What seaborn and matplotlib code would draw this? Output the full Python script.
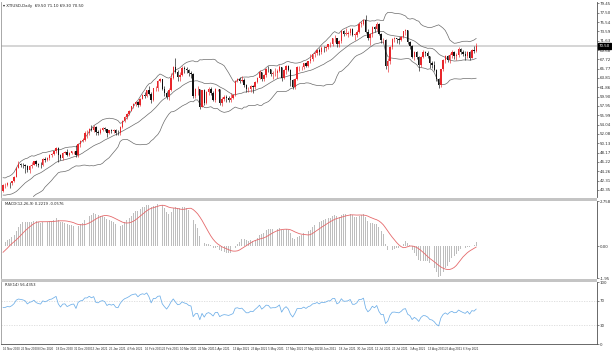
import numpy as np
import pandas as pd
import matplotlib
matplotlib.use("Agg")
import matplotlib.pyplot as plt
import matplotlib.transforms as mtransforms
from matplotlib.patches import Rectangle
import seaborn as sns

symbol = "XTIUSD,Daily"

# closes before the first visible bar (indicator warm-up), 16 Oct - 13 Nov 2020
warmup_close = [40.9, 41.1, 41.7, 40.0, 40.6, 39.9, 38.6, 39.6, 37.4, 36.2, 35.8,
                36.8, 37.7, 39.2, 38.8, 37.1, 40.3, 41.4, 41.5, 41.1, 40.1]

holidays = ["2020-12-25", "2021-01-01"]
first_day = "2020-11-16"
last_day = "2021-09-14"

opens = [
    40.1, 41.3, 41.4, 41.8, 41.7, 42.2, 43.1, 45.0, 45.7, 45.6, 45.5,
    45.3, 44.6, 45.3, 45.6, 46.3, 45.8, 45.6, 45.5, 46.8, 46.6, 47.0, 47.6, 47.8, 48.4, 49.1, 47.7, 47.0, 48.1, 48.2, 47.6, 48.0, 48.4,
    48.5, 47.6, 49.9, 50.6, 50.8, 52.2, 52.2, 53.2, 52.9, 53.6, 52.4, 52.3, 53.0, 53.3, 53.1, 52.3, 52.8, 52.6, 52.9, 52.3,
    52.2, 53.6, 54.8, 55.7, 56.2, 56.9, 57.9, 58.4, 58.7, 58.2, 59.5, 60.2, 60.1, 61.2, 60.5, 59.2, 61.7, 61.7, 63.2, 63.5,
    61.5, 60.6, 59.8, 61.3, 63.8, 66.1, 65.0, 64.0, 64.4, 66.0, 65.6, 65.4, 64.8, 64.6, 60.0, 61.4, 61.5, 57.8, 61.2, 58.6, 60.9, 61.5, 60.6,
    59.2, 61.4, 61.5, 58.6, 59.4, 59.8, 59.6, 59.3, 59.7, 60.2, 63.2, 63.5, 63.1, 63.4, 62.4, 61.4, 61.4, 62.1, 61.9, 62.9, 63.8, 65.0,
    63.6, 64.5, 65.7, 65.6, 64.7, 64.9, 64.9, 65.3, 66.1, 63.8, 65.4, 66.3, 65.5, 63.4, 62.0, 63.6, 66.1, 66.1, 66.2, 66.9, 66.4,
    67.3, 67.7, 68.8, 69.0, 69.6, 69.2, 70.1, 70.0, 70.3, 70.9, 70.9, 72.1, 72.2, 71.0, 71.6, 73.7, 73.1, 73.1, 73.3, 74.0, 72.9, 72.9,
    73.5, 75.2, 75.2, 75.9, 73.4, 72.2, 73.0, 74.6, 74.1, 75.2, 73.1, 71.7, 71.8, 66.4, 67.4, 70.3, 72.0, 72.1, 71.9, 71.7, 72.4, 73.6,
    73.9, 71.3, 70.6, 68.2, 69.2, 68.2, 66.5, 68.3, 69.2, 69.1, 68.4, 66.9, 66.6, 65.5, 63.5, 62.3, 65.6, 67.5, 68.4, 67.5, 68.7, 69.2,
    68.5, 68.6, 69.9, 69.3, 68.8, 68.4, 69.3, 68.1, 69.7, 69.5,
]
highs = [
    41.6, 41.8, 42.0, 42.0, 42.3, 43.3, 45.2, 46.3, 45.9, 46.0, 45.7,
    45.5, 45.5, 46.2, 46.5, 46.6, 45.9, 46.2, 47.0, 47.2, 47.3, 47.8, 48.1, 48.6, 49.3, 49.4, 47.8, 48.3, 48.4, 48.9, 48.3, 48.6, 48.6,
    49.8, 50.2, 50.9, 51.3, 52.7, 52.8, 53.4, 53.9, 53.9, 53.7, 52.8, 53.3, 53.6, 53.6, 53.2, 53.0, 53.1, 53.2, 53.2, 52.9,
    53.8, 54.9, 55.9, 56.4, 57.0, 58.0, 58.6, 58.9, 58.9, 59.7, 60.4, 60.9, 61.3, 62.2, 60.9, 61.8, 62.2, 63.3, 63.8, 63.6,
    62.2, 61.0, 61.8, 64.8, 66.4, 67.9, 65.4, 65.0, 66.4, 66.3, 66.2, 65.6, 65.3, 64.9, 61.7, 62.1, 61.6, 61.3, 61.4, 61.1, 61.9, 61.9, 61.1,
    61.7, 61.6, 61.6, 59.8, 60.2, 60.2, 60.0, 60.7, 60.5, 63.3, 63.8, 64.0, 64.2, 63.9, 62.6, 61.9, 62.3, 62.3, 63.1, 64.0, 65.5, 65.1,
    64.7, 66.0, 66.4, 65.8, 65.3, 65.9, 65.6, 66.6, 66.2, 65.6, 66.5, 66.6, 65.6, 63.6, 63.9, 66.3, 66.4, 66.4, 67.0, 67.2, 67.4,
    68.9, 68.9, 69.4, 69.8, 70.0, 70.5, 70.6, 70.5, 71.0, 71.3, 72.2, 72.9, 72.3, 71.8, 73.9, 73.9, 74.2, 73.6, 74.2, 74.4, 73.3, 73.8,
    75.6, 75.7, 76.2, 77.0, 74.0, 73.2, 74.8, 74.8, 75.5, 75.4, 73.3, 72.2, 72.0, 67.9, 70.5, 72.2, 72.4, 72.3, 72.4, 72.6, 73.7, 74.1,
    73.9, 71.6, 70.8, 69.4, 69.4, 68.4, 68.5, 69.7, 69.4, 69.4, 68.5, 67.4, 67.3, 65.7, 63.8, 65.8, 67.7, 68.6, 68.7, 69.0, 69.6, 69.5,
    69.0, 70.3, 70.1, 69.7, 69.5, 69.5, 69.5, 69.8, 70.6, 71.1,
]
lows = [
    39.9, 40.7, 41.1, 40.8, 41.4, 41.9, 43.0, 44.9, 45.1, 44.9, 43.8,
    44.1, 43.9, 44.9, 45.5, 45.4, 45.1, 45.0, 45.4, 46.2, 46.3, 46.6, 47.3, 47.6, 48.1, 46.2, 46.6, 46.7, 47.8, 47.4, 47.4, 47.8, 47.9,
    47.3, 47.3, 49.4, 50.3, 50.5, 51.3, 51.8, 52.6, 52.5, 51.9, 51.8, 52.1, 52.7, 52.6, 51.5, 52.0, 52.3, 52.2, 51.9, 51.8,
    51.8, 53.4, 54.6, 55.3, 56.0, 56.8, 57.6, 58.0, 57.8, 57.9, 59.4, 59.7, 59.8, 60.2, 58.6, 59.0, 61.0, 61.1, 62.9, 61.3,
    60.1, 59.4, 59.3, 61.1, 63.6, 64.9, 63.1, 63.1, 64.2, 64.9, 64.8, 64.3, 63.8, 59.7, 59.6, 60.3, 57.3, 57.7, 58.1, 58.4, 60.3, 60.2, 58.9,
    58.8, 61.1, 58.1, 58.0, 58.9, 58.8, 58.7, 58.8, 59.5, 60.0, 62.9, 62.8, 62.9, 61.9, 60.9, 60.8, 60.9, 60.7, 61.6, 62.7, 63.6, 63.2,
    63.1, 64.0, 65.1, 64.3, 63.7, 64.2, 63.9, 65.0, 63.1, 63.6, 64.7, 65.2, 62.2, 61.6, 61.5, 63.3, 65.2, 65.5, 65.7, 66.1, 66.2,
    67.0, 67.4, 68.3, 68.6, 68.6, 68.8, 69.3, 69.4, 69.8, 70.3, 70.6, 71.3, 70.4, 70.4, 71.2, 72.6, 72.8, 72.4, 72.9, 72.6, 71.8, 72.4,
    73.2, 74.5, 74.9, 73.2, 71.8, 70.8, 72.5, 73.4, 73.6, 72.9, 71.2, 71.1, 65.8, 65.0, 66.8, 69.9, 71.3, 71.1, 70.9, 71.6, 72.2, 72.9,
    71.0, 69.8, 67.9, 67.6, 67.8, 65.2, 66.2, 67.9, 68.4, 67.9, 66.0, 65.9, 65.2, 63.2, 61.7, 62.0, 65.2, 66.9, 67.1, 67.0, 68.1, 67.7,
    67.5, 68.2, 68.8, 68.4, 67.6, 68.0, 67.6, 67.9, 69.0, 69.3,
]
closes = [
    41.3, 41.4, 41.8, 41.7, 42.2, 43.1, 45.0, 45.7, 45.6, 45.5, 45.3,
    44.6, 45.3, 45.6, 46.3, 45.8, 45.6, 45.5, 46.8, 46.6, 47.0, 47.6, 47.8, 48.4, 49.1, 47.7, 47.0, 48.1, 48.2, 47.6, 48.0, 48.4, 48.5,
    47.6, 49.9, 50.6, 50.8, 52.2, 52.2, 53.2, 52.9, 53.6, 52.4, 52.3, 53.0, 53.3, 53.1, 52.3, 52.8, 52.6, 52.9, 52.3, 52.2,
    53.6, 54.8, 55.7, 56.2, 56.9, 57.9, 58.4, 58.7, 58.2, 59.5, 60.2, 60.1, 61.2, 60.5, 59.2, 61.7, 61.7, 63.2, 63.5, 61.5,
    60.6, 59.8, 61.3, 63.8, 66.1, 65.0, 64.0, 64.4, 66.0, 65.6, 65.4, 64.8, 64.6, 60.0, 61.4, 61.5, 57.8, 61.2, 58.6, 60.9, 61.5, 60.6, 59.2,
    61.4, 61.5, 58.6, 59.4, 59.8, 59.6, 59.3, 59.7, 60.2, 63.2, 63.5, 63.1, 63.4, 62.4, 61.4, 61.4, 62.1, 61.9, 62.9, 63.8, 65.0, 63.6,
    64.5, 65.7, 65.6, 64.7, 64.9, 64.9, 65.3, 66.1, 63.8, 65.4, 66.3, 65.5, 63.4, 62.0, 63.6, 66.1, 66.1, 66.2, 66.9, 66.4, 67.3,
    67.7, 68.8, 69.0, 69.6, 69.2, 70.1, 70.0, 70.3, 70.9, 70.9, 72.1, 72.2, 71.0, 71.6, 73.7, 73.1, 73.1, 73.3, 74.0, 72.9, 72.9, 73.5,
    75.2, 75.2, 75.9, 73.4, 72.2, 73.0, 74.6, 74.1, 75.2, 73.1, 71.7, 71.8, 66.4, 67.4, 70.3, 72.0, 72.1, 71.9, 71.7, 72.4, 73.6, 73.9,
    71.3, 70.6, 68.2, 69.2, 68.2, 66.5, 68.3, 69.2, 69.1, 68.4, 66.9, 66.6, 65.5, 63.5, 62.3, 65.6, 67.5, 68.4, 67.5, 68.7, 69.2, 68.5,
    68.6, 69.9, 69.3, 68.8, 68.4, 69.3, 68.1, 69.7, 69.5, 70.5,
]

dates = pd.bdate_range(first_day, last_day)
dates = dates[~dates.isin(pd.to_datetime(holidays))]
assert len(opens) == len(highs) == len(lows) == len(closes) == len(dates), (
    len(opens), len(highs), len(lows), len(closes), len(dates))

n = len(closes)
xs = np.arange(n)
o = np.array(opens); h = np.array(highs); l = np.array(lows); c = np.array(closes)

# ---- indicators (computed from the closes) ----
full = pd.Series(warmup_close + closes, dtype=float)
k = len(warmup_close)
mid = full.rolling(20).mean()
sd = full.rolling(20).std(ddof=0)
bb_mid = mid.values[k:]
bb_up = (mid + 2 * sd).values[k:]
bb_lo = (mid - 2 * sd).values[k:]
macd_full = full.ewm(span=12, adjust=False).mean() - full.ewm(span=26, adjust=False).mean()
sig_full = macd_full.rolling(9, min_periods=1).mean()
macd = macd_full.values[k:]
sig = sig_full.values[k:]
d = full.diff()
gain = d.clip(lower=0).ewm(alpha=1 / 14, adjust=False).mean()
loss = (-d.clip(upper=0)).ewm(alpha=1 / 14, adjust=False).mean()
rsi = (100 - 100 / (1 + gain / loss)).values[k:]

# ---- figure ----
sns.set_style("white")
plt.rcParams["font.family"] = ["DejaVu Sans"]
W, H = 612, 353
fig = plt.figure(figsize=(W / 100, H / 100), dpi=100)
fig.patch.set_facecolor("white")

def fr(px_left, px_top, px_right, px_bottom):
    return [px_left / W, 1 - px_bottom / H, (px_right - px_left) / W, (px_bottom - px_top) / H]

ax1 = fig.add_axes(fr(1, 2, 597, 197))
ax2 = fig.add_axes(fr(1, 201, 597, 278), sharex=ax1)
ax3 = fig.add_axes(fr(1, 282, 597, 344), sharex=ax1)

XMIN, XMAX = -0.9, 268.6
tick_fs = 2.9
txt_col = "#303030"

for ax in (ax1, ax2, ax3):
    ax.set_facecolor("white")
    ax.yaxis.tick_right()
    ax.tick_params(axis="y", labelsize=tick_fs, length=1.2, width=0.4, pad=0.6, colors=txt_col)
    ax.tick_params(axis="x", length=0)
    for s in ("top", "bottom"):
        ax.spines[s].set_visible(False)
    ax.spines["left"].set_color("#9A9A9A")
    ax.spines["left"].set_linewidth(0.6)
    ax.spines["right"].set_color("#505050")
    ax.spines["right"].set_linewidth(0.6)
    ax.grid(False)

# main price panel
up = c >= o
col = np.where(up, "#E8262B", "#111111")
ax1.vlines(xs, l, h, colors=col, linewidth=0.45, zorder=3)
body = np.maximum(np.abs(c - o), 0.06)
ax1.bar(xs, body, bottom=np.minimum(o, c), width=0.62, color=col, linewidth=0, zorder=4)
band_col = "#6A6A6A"
sns.lineplot(x=xs, y=bb_up, ax=ax1, color=band_col, linewidth=0.5, zorder=2)
sns.lineplot(x=xs, y=bb_mid, ax=ax1, color=band_col, linewidth=0.5, zorder=2)
sns.lineplot(x=xs, y=bb_lo, ax=ax1, color=band_col, linewidth=0.5, zorder=2)
ax1.axhline(c[-1], color="#D2D2D2", linewidth=1.3, zorder=1)
ax1.set_ylim(38.85, 79.75)
yt = np.arange(79.45, 38.8, -1.955)
ax1.set_yticks(yt)
ax1.set_yticklabels([f"{v:.2f}" for v in yt])
trans1 = mtransforms.blended_transform_factory(ax1.transAxes, ax1.transData)
ax1.text(1.003, c[-1], f"{c[-1]:.2f}", transform=trans1, fontsize=tick_fs, color="white",
         va="center", ha="left", zorder=10,
         bbox=dict(boxstyle="square,pad=0.15", fc="black", ec="black"))
fig.text(3 / W, 1 - 5.5 / H,
         f"\u25be {symbol}  {o[-1]:.2f} {h[-1]:.2f} {l[-1]:.2f} {c[-1]:.2f}",
         fontsize=2.9, color="#202020", va="center", ha="left")

# MACD panel
ax2.bar(xs, macd, width=0.42, color="#BDBDBD", linewidth=0, zorder=2)
sns.lineplot(x=xs, y=sig, ax=ax2, color="#E5696B", linewidth=0.6, zorder=3)
mx, mn = float(np.nanmax(macd)), float(np.nanmin(macd))
top2, bot2 = mx * 1.04, mn * 1.04
ax2.set_ylim(bot2, top2)
ax2.set_yticks([top2, 0.0, bot2])
ax2.set_yticklabels([f"{top2:.3f}", "0.00", f"{bot2:.2f}"])
ax2.text(0.006, 0.985, f"MACD(12,26,9) {macd[-1]:.4f} {sig[-1]:.4f}", transform=ax2.transAxes,
         fontsize=2.7, color="#202020", va="top", ha="left")

# RSI panel
sns.lineplot(x=xs, y=rsi, ax=ax3, color="#6DAEE8", linewidth=0.55, zorder=3)
for lev in (70, 30):
    ax3.axhline(lev, color="#CFCFCF", linewidth=0.45, linestyle=(0, (2, 2)), zorder=1)
ax3.set_ylim(0, 100)
ax3.set_yticks([100, 70, 30, 0])
ax3.set_yticklabels(["100", "70", "30", "0"])
ax3.spines["bottom"].set_visible(True)
ax3.spines["bottom"].set_color("#505050")
ax3.spines["bottom"].set_linewidth(0.6)
ax3.text(0.006, 0.985, f"RSI(14) {rsi[-1]:.4f}", transform=ax3.transAxes,
         fontsize=2.7, color="#202020", va="top", ha="left")

# date labels
tick_idx = xs[::8]
ax3.set_xticks(tick_idx)
ax3.set_xticklabels([f"{dates[i].day} {dates[i].strftime('%b %Y')}" for i in tick_idx],
                    fontsize=2.2, color=txt_col, ha="left", family=["Liberation Sans", "DejaVu Sans"])
ax3.tick_params(axis="x", length=1.5, width=0.4, pad=1, colors=txt_col)
plt.setp(ax1.get_xticklabels(), visible=False)
plt.setp(ax2.get_xticklabels(), visible=False)
ax1.set_xlim(XMIN, XMAX)
for ax in (ax1, ax2, ax3):
    ax.set_xlabel("")
    ax.set_ylabel("")

# sub-window separators
for top_px, hgt in ((197.5, 3.0), (278.5, 3.0)):
    fig.add_artist(Rectangle((1 / W, 1 - (top_px + hgt) / H), 596 / W, hgt / H,
                             transform=fig.transFigure, facecolor="#C4C4C4", edgecolor="none"))

fig.savefig("out.png", dpi=100, facecolor="white")
